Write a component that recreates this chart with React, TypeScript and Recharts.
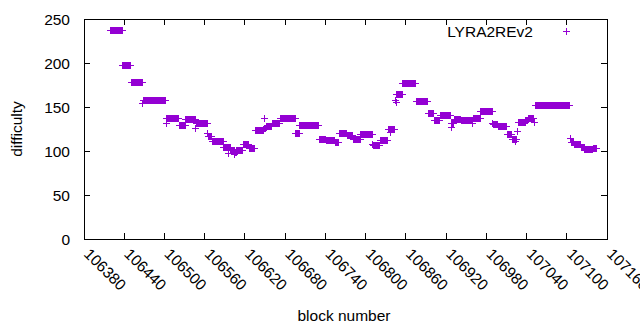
import React from 'react';
import { ScatterChart, Scatter, XAxis, YAxis, ReferenceArea } from 'recharts';

const xTicks = [
    106380, 106440, 106500, 106560, 106620, 106680, 106740, 106800, 106860, 106920, 106980, 107040, 107100, 107160,
];
const yTicks = [0, 50, 100, 150, 200, 250];

// stretches of blocks with the same difficulty: [first block, last block, difficulty]
const runs: [number, number, number][] = [
    [106419, 106436, 238],
    [106437, 106449, 198],
    [106450, 106467, 178],
    [106468, 106501, 158],
    [106502, 106520, 138],
    [106521, 106530, 130],
    [106531, 106545, 136],
    [106547, 106563, 132],
    [106565, 106570, 117],
    [106571, 106587, 111],
    [106588, 106597, 104],
    [106598, 106603, 101],
    [106605, 106606, 99],
    [106607, 106616, 101],
    [106617, 106625, 108],
    [106626, 106634, 103],
    [106635, 106647, 124],
    [106649, 106650, 126],
    [106651, 106659, 128],
    [106660, 106671, 132],
    [106672, 106694, 138],
    [106695, 106700, 121],
    [106701, 106729, 129],
    [106730, 106740, 114],
    [106741, 106753, 112],
    [106754, 106759, 110],
    [106760, 106771, 121],
    [106772, 106780, 118],
    [106781, 106791, 114],
    [106792, 106809, 119],
    [106811, 106820, 107],
    [106821, 106832, 112],
    [106833, 106843, 125],
    [106846, 106854, 165],
    [106855, 106874, 177],
    [106875, 106892, 157],
    [106893, 106901, 143],
    [106902, 106910, 135],
    [106911, 106926, 141],
    [106928, 106931, 132],
    [106932, 106941, 136],
    [106942, 106958, 135],
    [106960, 106970, 137],
    [106971, 106989, 146],
    [106990, 106996, 131],
    [106997, 107010, 128],
    [107011, 107017, 119],
    [107018, 107024, 114],
    [107027, 107037, 133],
    [107038, 107041, 135],
    [107042, 107050, 137],
    [107052, 107104, 152],
    [107106, 107110, 110],
    [107111, 107120, 108],
    [107121, 107125, 105],
    [107126, 107138, 102],
    [107139, 107144, 103],
];

// odd blocks off the runs: [block, difficulty]
const singles: [number, number][] = [
    [106466, 155],
    [106502, 132],
    [106546, 126],
    [106564, 120],
    [106595, 98],
    [106604, 97],
    [106648, 137],
    [106698, 120],
    [106810, 108],
    [106836, 122],
    [106844, 158],
    [106845, 156],
    [106927, 127],
    [106959, 132],
    [106988, 132],
    [107023, 111],
    [107026, 123],
    [107051, 133],
    [107105, 115],
];

const points: { block: number; difficulty: number }[] = [];
runs.forEach(([a, b, v]) => {
    for (let n = a; n <= b; n++) points.push({ block: n, difficulty: v });
});
singles.forEach(([n, v]) => points.push({ block: n, difficulty: v }));

const PURPLE = '#9400d3';
const FONT = '"Liberation Sans", Arial, sans-serif';
const FS = 15.5;
const PLOT_W = 523;
const PLOT_H = 220;

const Plus = (props: any) => {
    const x = Math.round(props.cx) + 0.5;
    const y = Math.round(props.cy) + 0.5;
    return (
        <path
            d={`M${x - 3.5} ${y}H${x + 3.5}M${x} ${y - 3.5}V${y + 3.5}`}
            stroke={PURPLE}
            strokeWidth={1}
            fill='none'
        />
    );
};

const XTick = (props: any) => {
    const { x, y, payload } = props;
    const tx = x + 3;
    const ty = y + 12;
    return (
        <g>
            <line x1={x} y1={y} x2={x} y2={y - 6} stroke='#000' shapeRendering='crispEdges' />
            <line x1={x} y1={y - PLOT_H} x2={x} y2={y - PLOT_H + 6} stroke='#000' shapeRendering='crispEdges' />
            <text
                x={tx}
                y={ty}
                transform={`rotate(45, ${tx}, ${ty})`}
                textAnchor='start'
                dominantBaseline='central'
                fontFamily={FONT}
                fontSize={FS}
                fill='#000'
            >
                {payload.value}
            </text>
        </g>
    );
};

const YTick = (props: any) => {
    const { x, y, payload } = props;
    return (
        <g>
            <line x1={x} y1={y} x2={x + 6} y2={y} stroke='#000' shapeRendering='crispEdges' />
            <line x1={x + PLOT_W} y1={y} x2={x + PLOT_W - 6} y2={y} stroke='#000' shapeRendering='crispEdges' />
            <text
                x={x - 14}
                y={y}
                textAnchor='end'
                dominantBaseline='central'
                fontFamily={FONT}
                fontSize={FS}
                fill='#000'
            >
                {payload.value}
            </text>
        </g>
    );
};

const App = (): React.ReactElement => {
    return (
        <div style={{ position: 'absolute', left: 0, top: 0, background: '#fff' }}>
            <ScatterChart width={640} height={330} margin={{ top: 19, right: 33, left: 0, bottom: 0 }}>
                <XAxis
                    dataKey='block'
                    type='number'
                    domain={[106380, 107160]}
                    ticks={xTicks}
                    interval={0}
                    allowDataOverflow
                    height={91}
                    tickSize={0}
                    tickMargin={0}
                    tickLine={false}
                    axisLine={false}
                    tick={<XTick />}
                />
                <YAxis
                    dataKey='difficulty'
                    type='number'
                    domain={[0, 250]}
                    ticks={yTicks}
                    interval={0}
                    allowDataOverflow
                    width={84}
                    tickSize={0}
                    tickMargin={0}
                    tickLine={false}
                    axisLine={false}
                    tick={<YTick />}
                />
                <ReferenceArea
                    x1={106380}
                    x2={107160}
                    y1={0}
                    y2={250}
                    fill='none'
                    fillOpacity={0}
                    stroke='#000'
                    strokeOpacity={1}
                    shapeRendering='crispEdges'
                />
                <Scatter data={points} dataKey='difficulty' shape={<Plus />} isAnimationActive={false} />
                <text x={533} y={31} textAnchor='end' dominantBaseline='central' fontFamily={FONT} fontSize={FS}>
                    LYRA2REv2
                </text>
                <path d='M563 31.5H570M566.5 28V35' stroke={PURPLE} strokeWidth={1} fill='none' />
                <text x={344} y={321} textAnchor='middle' fontFamily={FONT} fontSize={FS}>
                    block number
                </text>
                <text
                    x={22}
                    y={129}
                    transform='rotate(-90, 22, 129)'
                    textAnchor='middle'
                    fontFamily={FONT}
                    fontSize={FS}
                >
                    difficulty
                </text>
            </ScatterChart>
        </div>
    );
};

export default App;
